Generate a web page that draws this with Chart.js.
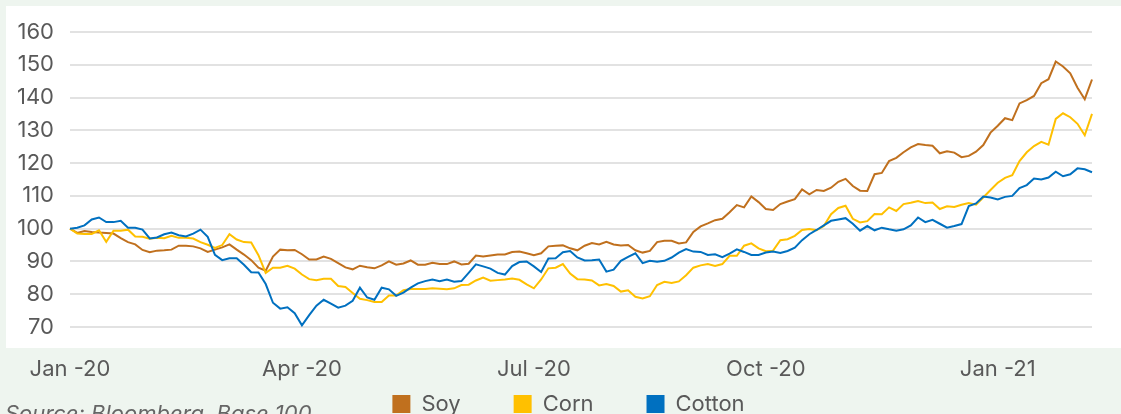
<!DOCTYPE html>
<html>
<head>
<meta charset="utf-8">
<script src="https://cdn.jsdelivr.net/npm/chart.js@4.4.1/dist/chart.umd.min.js"></script>
<style>
  html, body { margin: 0; padding: 0; background: #eef5ef; }
  #wrap { position: relative; width: 1121px; height: 414px; overflow: hidden; }
  canvas { display: block; }
</style>
</head>
<body>
<div id="wrap"><canvas id="c" width="1121" height="414"></canvas></div>
<script>
// ---- data ----
const seriesNames = ["Soy", "Corn", "Cotton"];
const seriesColors = ["#C0701E", "#FFC000", "#0070C0"];
const tickLabels = ["Jan -20", "Apr -20", "Jul -20", "Oct -20", "Jan -21"];
const pointsPerQuarter = 32;
const sourceNote = "Source: Bloomberg, Base 100";

const soy = [
  100, 98.7, 99.3, 99.0, 98.8, 98.7, 98.5, 97.1, 95.9, 95.2,
  93.5, 92.8, 93.3, 93.4, 93.6, 94.8, 94.8, 94.6, 94.0, 92.9,
  93.6, 94.3, 95.2, 93.6, 92.1, 90.4, 88.1, 87.2, 91.5, 93.6,
  93.4, 93.5, 92.2, 90.6, 90.6, 91.5, 90.8, 89.5, 88.2, 87.6,
  88.7, 88.2, 87.9,
  88.8, 90.0, 89.0, 89.4, 90.3, 89.0, 89.0, 89.6, 89.2, 89.2,
  90.0, 89.1, 89.3, 91.8, 91.5, 91.8, 92.1, 92.1, 92.9, 93.0,
  92.5, 91.9, 92.5, 94.6, 94.8, 94.9, 94.0, 93.4, 94.8, 95.6,
  95.2, 96.0, 95.2, 94.9, 95.0, 93.4, 92.7, 93.2, 95.9, 96.3,
  96.3, 95.5, 95.8, 99.0, 100.7, 101.6, 102.6, 103.0, 105.0, 107.2,
  106.5, 109.8, 108.1, 106.0, 105.7, 107.5, 108.3, 109.0, 112.0, 110.5,
  111.8, 111.5, 112.5, 114.3, 115.2, 113.0, 111.6, 111.5, 116.6, 117.0,
  120.6, 121.6, 123.3, 124.8, 125.8, 125.5, 125.3, 123.0, 123.6, 123.2,
  121.8,
  122.2, 123.5, 125.5, 129.3, 131.4, 133.7, 133.1, 138.2, 139.2, 140.5,
  144.4, 145.6, 151.0, 149.5, 147.4, 143.0, 139.5, 145.5
];

const corn = [
  100, 98.5, 98.4, 98.4, 99.5, 96.0, 99.4, 99.4, 99.7, 97.6,
  97.5, 96.9, 97.2, 97.1, 97.8, 97.2, 97.2, 97.0, 95.9, 95.1,
  94.1, 95.0, 98.3, 96.7, 95.9, 95.8, 91.9, 86.5, 88.1, 88.1,
  88.7, 87.8, 86.0, 84.6, 84.3, 84.7, 84.7, 82.5, 82.2, 80.4,
  78.6, 78.2, 77.6,
  77.6, 79.6, 79.6, 81.2, 81.6, 81.6, 81.6, 81.8, 81.7, 81.5,
  81.8, 82.8, 82.9, 84.2, 85.1, 84.1, 84.3, 84.5, 84.8, 84.4,
  83.0, 81.8, 84.5, 87.9, 88.1, 89.2, 86.3, 84.6, 84.5, 84.2,
  82.7, 83.1, 82.5, 80.8, 81.2, 79.2, 78.7, 79.4, 82.8, 83.8,
  83.4, 83.9, 85.8, 88.1, 88.8, 89.2, 88.6, 89.2, 91.7, 91.7,
  94.8, 95.5, 94.0, 93.1, 93.3, 96.5, 96.8, 97.8, 99.6, 99.9,
  99.5, 100.8, 104.4, 106.3, 107.0, 103.0, 101.9, 102.3, 104.5, 104.4,
  106.5, 105.4, 107.5, 107.9, 108.4, 107.8, 108.0, 106.0, 106.8, 106.6,
  107.3,
  107.8, 107.3, 109.5, 111.8, 114.0, 115.5, 116.3, 120.6, 123.3, 125.2,
  126.5, 125.6, 133.5, 135.2, 134.0, 132.0, 128.5, 135.0
];

const cotton = [
  100, 100.3, 101.0, 102.8, 103.4, 102.0, 102.0, 102.4, 100.3, 100.3,
  99.7, 97.0, 97.3, 98.3, 98.8, 98.0, 97.6, 98.5, 99.7, 97.5,
  92.0, 90.4, 91.0, 91.0, 89.0, 86.7, 86.6, 83.1, 77.4, 75.6,
  76.0, 74.2, 70.5, 73.6, 76.5, 78.3, 77.1, 75.9, 76.5, 78.0,
  82.0, 79.0, 78.3,
  82.0, 81.5, 79.5, 80.5, 82.0, 83.3, 84.0, 84.5, 84.0, 84.5,
  83.8, 84.0, 86.5, 89.1, 88.5, 87.8, 86.5, 86.0, 88.6, 89.8,
  90.0, 88.5, 86.8, 90.9, 91.0, 92.8, 93.2, 91.2, 90.3, 90.4,
  90.6, 86.9, 87.5, 90.2, 91.4, 92.5, 89.5, 90.2, 89.9, 90.2,
  91.2, 92.7, 93.8, 93.0, 92.9, 92.0, 92.2, 91.3, 92.4, 93.7,
  92.9, 92.0, 92.0, 92.7, 93.0, 92.6, 93.2, 94.2, 96.5, 98.3,
  99.6, 101.0, 102.4, 102.8, 103.2, 101.5, 99.4, 100.8, 99.5, 100.3,
  99.8, 99.4, 99.8, 101.0, 103.4, 102.0, 102.7, 101.5, 100.3, 100.8,
  101.4,
  106.9, 107.7, 109.8, 109.5, 108.9, 109.7, 110.0, 112.4, 113.3, 115.3,
  115.0, 115.6, 117.4, 116.0, 116.6, 118.4, 118.1, 117.2
];

// ---- chart ----
const FONT = 'Inter, "DejaVu Sans", sans-serif';
const TEXT_COLOR = '#595959';
const PAGE_BG = '#eef5ef';

const categories = soy.map((_, i) => i);
const seriesValues = [soy, corn, cotton];

const framePlugin = {
  id: 'frame',
  beforeLayout(chart) {
    const lg = chart.legend;
    if (lg && !lg._patched) {
      const fit = lg.fit;
      lg.fit = function () { fit.call(this); this.height = 31; };
      lg._patched = true;
    }
  },
  afterLayout(chart) {
    const lg = chart.legend;
    if (lg) {
      // let the legend box start higher (its rows sit 'padding' below its top)
      lg.top -= 43;
      lg.height = lg.bottom - lg.top;
      lg.left += 7; lg.right += 7;
    }
  },
  beforeDraw(chart) {
    const { ctx, chartArea: a, width } = chart;
    ctx.save();
    ctx.fillStyle = PAGE_BG;
    ctx.fillRect(0, 0, width, chart.height);
    ctx.fillStyle = '#ffffff';
    const left = a.left - 64, top = a.top - 26;
    ctx.fillRect(left, top, width - left, (a.bottom + 21) - top);
    ctx.restore();
  },
  afterDraw(chart) {
    const { ctx } = chart;
    ctx.save();
    ctx.font = 'italic 22px ' + FONT;
    ctx.fillStyle = '#666666';
    ctx.textBaseline = 'alphabetic';
    ctx.textAlign = 'left';
    ctx.fillText(sourceNote, 5, 421);
    ctx.restore();
  }
};

function build() {
  Chart.defaults.font.family = FONT;
  new Chart(document.getElementById('c'), {
    type: 'line',
    data: {
      labels: categories,
      datasets: seriesNames.map((name, k) => ({
        label: name,
        data: seriesValues[k],
        borderColor: seriesColors[k],
        backgroundColor: seriesColors[k],
        borderWidth: 2,
        pointRadius: 0,
        tension: 0,
        fill: false,
        order: seriesNames.length - k
      }))
    },
    options: {
      responsive: false,
      animation: false,
      devicePixelRatio: 1,
      layout: { padding: { top: 32, left: 6, right: 4, bottom: 0 } },
      plugins: {
        tooltip: { enabled: false },
        legend: {
          position: 'bottom',
          labels: {
            boxWidth: 18,
            boxHeight: 18,
            padding: 53,
            color: TEXT_COLOR,
            font: { family: FONT, size: 22 },
            sort: (a, b) => a.datasetIndex - b.datasetIndex,
            generateLabels(chart) {
              const items = Chart.defaults.plugins.legend.labels.generateLabels(chart);
              items.forEach(it => { it.lineWidth = 0; it.fillStyle = it.strokeStyle; });
              return items;
            }
          }
        }
      },
      scales: {
        x: {
          type: 'category',
          offset: false,
          grid: { display: false, drawTicks: false },
          border: { display: false },
          ticks: {
            autoSkip: false,
            maxRotation: 0,
            minRotation: 0,
            padding: 29,
            color: TEXT_COLOR,
            font: { family: FONT, size: 22 },
            callback: (v, i) => (i % pointsPerQuarter === 0 ? (tickLabels[i / pointsPerQuarter] || '') : '')
          },
          afterFit: (s) => { s.height = 56; }
        },
        y: {
          min: 70,
          max: 160,
          grid: { color: '#e2e2e2', lineWidth: 2, drawTicks: false },
          border: { display: false },
          ticks: {
            stepSize: 10,
            padding: 16,
            color: TEXT_COLOR,
            font: { family: FONT, size: 22 }
          },
          afterFit: (s) => { s.width = 64; }
        }
      }
    },
    plugins: [framePlugin]
  });
}

if (document.fonts && document.fonts.load) {
  Promise.all([
    document.fonts.load('22px Inter'),
    document.fonts.load('italic 22px Inter')
  ]).then(build, build);
} else {
  build();
}
</script>
</body>
</html>
